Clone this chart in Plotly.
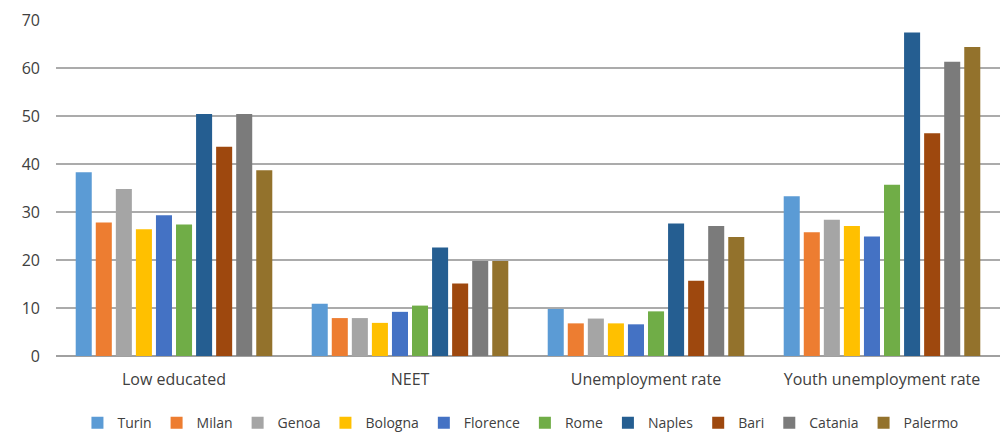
import plotly.graph_objects as go

# Indicators shown on the category axis
indicators = ["Low educated", "NEET", "Unemployment rate", "Youth unemployment rate"]

# City series (percent values per indicator)
turin = [38.3, 10.9, 9.8, 33.3]
milan = [27.8, 7.9, 6.8, 25.8]
genoa = [34.8, 7.9, 7.8, 28.4]
bologna = [26.4, 6.9, 6.8, 27.1]
florence = [29.3, 9.2, 6.6, 24.9]
rome = [27.4, 10.5, 9.3, 35.7]
naples = [50.4, 22.6, 27.6, 67.4]
bari = [43.6, 15.1, 15.7, 46.4]
catania = [50.4, 19.8, 27.1, 61.3]
palermo = [38.7, 19.8, 24.8, 64.4]

cities = ["Turin", "Milan", "Genoa", "Bologna", "Florence",
          "Rome", "Naples", "Bari", "Catania", "Palermo"]
series = [turin, milan, genoa, bologna, florence,
          rome, naples, bari, catania, palermo]
colors = ["#5B9BD5", "#ED7D31", "#A5A5A5", "#FFC000", "#4472C4",
          "#70AD47", "#255E91", "#9E480E", "#7B7B7B", "#93722C"]

y_ticks = [0, 10, 20, 30, 40, 50, 60, 70]

fig = go.Figure()
for name, vals, col in zip(cities, series, colors):
    fig.add_trace(go.Bar(
        x=indicators, y=vals, name=name,
        marker=dict(color=col, line=dict(width=0)),
    ))

font_family = "'Open Sans', 'Noto Sans', sans-serif"
text_color = "#404040"

fig.update_layout(
    width=1003, height=433,
    margin=dict(l=56, r=3, t=20, b=77, autoexpand=False),
    paper_bgcolor="white", plot_bgcolor="white",
    barmode="group", bargap=0.15, bargroupgap=0.2,
    font=dict(family=font_family, size=16, color=text_color),
    showlegend=True,
    legend=dict(
        orientation="h", x=0.492, xanchor="center", y=-0.2, yanchor="middle",
        font=dict(size=14, color=text_color),
        itemwidth=30, traceorder="normal",
    ),
    xaxis=dict(
        showgrid=False, showline=False, ticks="",
        ticklabelstandoff=12,
        tickfont=dict(size=16, color=text_color),
    ),
    yaxis=dict(
        range=[0, 70], tickvals=y_ticks,
        showgrid=True, gridcolor="#ABABAB", gridwidth=1.5,
        zeroline=True, zerolinecolor="#A0A0A0", zerolinewidth=2,
        showline=False, ticks="", ticklabelstandoff=15,
        tickfont=dict(size=16, color=text_color),
    ),
)

fig.write_html("out.html")
